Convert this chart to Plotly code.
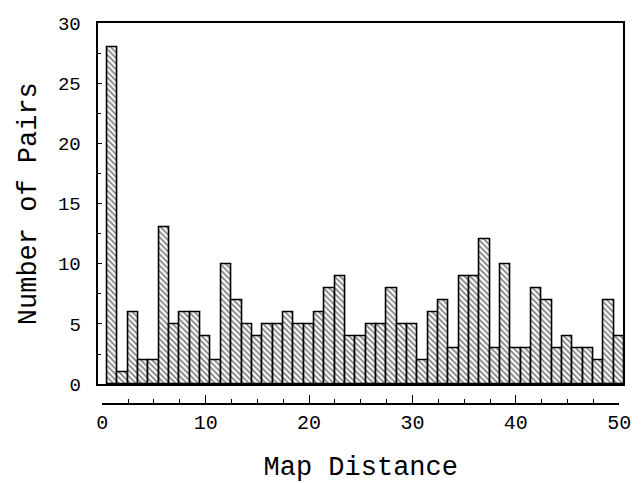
import plotly.graph_objects as go

distance = list(range(1, 51))
pairs = [28, 1, 6, 2, 2, 13, 5, 6, 6, 4,
         2, 10, 7, 5, 4, 5, 5, 6, 5, 5,
         6, 8, 9, 4, 4, 5, 5, 8, 5, 5,
         2, 6, 7, 3, 9, 9, 12, 3, 10, 3,
         3, 8, 7, 3, 4, 3, 3, 2, 7, 4]
x_ticks = [0, 10, 20, 30, 40, 50]
y_ticks = [0, 5, 10, 15, 20, 25, 30]

W, H = 641, 483
FONT = "Liberation Mono, Courier New, monospace"

def px(x):
    return x / W

def py(y):
    return 1 - y / H

fig = go.Figure()
fig.add_trace(go.Bar(
    x=distance, y=pairs, width=1.0,
    marker=dict(color="white",
                line=dict(color="black", width=1.6),
                pattern=dict(shape="\\", fgcolor="black", bgcolor="white",
                             size=4, solidity=0.45)),
    xaxis="x", yaxis="y", showlegend=False,
))
# helper trace so the separate distance axis is drawn
fig.add_trace(go.Scatter(
    x=[0, 50], y=[0, 0], mode="markers", marker=dict(opacity=0),
    xaxis="x2", yaxis="y", showlegend=False, hoverinfo="skip",
))

fig.update_layout(
    width=W, height=H,
    margin=dict(l=0, r=0, t=0, b=0),
    paper_bgcolor="white", plot_bgcolor="rgba(0,0,0,0)",
    font=dict(family=FONT, color="black", size=20),
    bargap=0,
    xaxis=dict(domain=[px(95), px(635)], range=[-0.38, 50.38],
               showline=True, mirror=True, linecolor="black", linewidth=1.5,
               ticks="", showticklabels=False, showgrid=False, zeroline=False),
    yaxis=dict(domain=[py(393), py(15)], range=[0, 30],
               showline=True, mirror=True, linecolor="black", linewidth=1.5,
               tickvals=y_ticks, ticks="inside", ticklen=4, tickwidth=1,
               tickcolor="black",
               minor=dict(dtick=2.5, ticks="inside", ticklen=3,
                          tickcolor="black", showgrid=False),
               ticklabelstandoff=12,
               tickfont=dict(family=FONT, size=19),
               showgrid=False, zeroline=False,
               title=dict(text="Number of Pairs",
                          font=dict(family=FONT, size=27), standoff=14)),
    xaxis2=dict(domain=[px(99), px(631)], range=[0, 50],
                anchor="free", position=py(414),
                showline=True, linecolor="black", linewidth=1.5,
                tickvals=x_ticks, ticks="inside", ticklen=8, tickwidth=1,
                tickcolor="black",
                minor=dict(dtick=2.5, ticks="inside", ticklen=4,
                           tickcolor="black", showgrid=False),
                ticklabeloverflow="allow",
                tickfont=dict(family=FONT, size=20),
                showgrid=False, zeroline=False,
                title=dict(text="Map Distance",
                           font=dict(family=FONT, size=27), standoff=21)),
)

fig.write_html(
    "out.html",
    config={"displayModeBar": False},
    post_script="document.body.style.margin='0';"
                "document.body.style.overflow='hidden';",
)
